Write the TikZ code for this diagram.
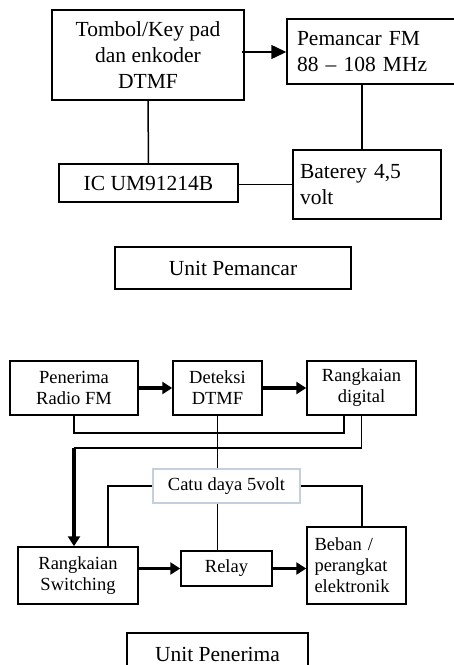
\documentclass[tikz,border=0pt]{standalone}
\usepackage{fontspec}
\setmainfont{Liberation Serif}
\usepackage{tikz}
\usetikzlibrary{arrows.meta, positioning, calc}

\definecolor{catublue}{RGB}{196,208,222}

\begin{document}
\begin{tikzpicture}[
        x=1pt, y=-1pt,
        box/.style={rectangle, draw, line width=1.5pt, inner sep=0pt, align=center},
        bigtxt/.style={font=\fontsize{21.5}{26}\selectfont},
        smalltxt/.style={font=\fontsize{18.5}{21}\selectfont},
        line/.style={line width=1.5pt},
        arrow/.style={line width=1.5pt, -{Triangle[length=15pt, width=14pt]}},
        thickarrow/.style={line width=3.2pt, -{Triangle[length=10pt, width=12pt]}},
        >=stealth
    ]
    \useasboundingbox (0,0) rectangle (454,665);

    % unit pemancar
    \node (tombol) [box, bigtxt, minimum width=192pt, minimum height=90pt] at (148,55) {Tombol/Key pad\\dan enkoder\\DTMF};
    \node (pemancar) [box, bigtxt, minimum width=190pt, minimum height=65pt, align=left, text width=170pt] at (382,51.5) {Pemancar FM\\88 -- 108 MHz};
    \node (ic) [box, bigtxt, minimum width=179pt, minimum height=38pt] at (148.5,183) {IC UM91214B};
    \node (baterey) [box, bigtxt, minimum width=148pt, minimum height=69pt, align=left, text width=134pt] at (367,184.5) {Baterey 4,5\\volt};
    \node (unittx) [box, bigtxt, minimum width=236pt, minimum height=42pt] at (233,268) {Unit Pemancar};

    \draw[arrow] ([xshift=-3pt]tombol.east |- 0,52) -- (pemancar.west |- 0,52);
    \draw[line] (tombol.south) -- (ic.north);
    \draw[line] ([xshift=-5pt]baterey.north) -- ([xshift=-5pt]baterey.north |- pemancar.south);
    \draw[line] (ic.east |- baterey.west) -- (baterey.west);

    % unit penerima
    \node (penerima) [box, smalltxt, minimum width=128pt, minimum height=54pt] at (74,388) {Penerima\\Radio FM};
    \node (deteksi) [box, smalltxt, minimum width=89pt, minimum height=54pt] at (217.5,388) {Deteksi\\DTMF};
    \node (digital) [box, smalltxt, minimum width=109pt, minimum height=54pt] at (361.5,388) {Rangkaian\\digital};
    \node (catu) [box, smalltxt, draw=catublue, minimum width=147pt, minimum height=34pt] at (226.5,486) {Catu daya 5volt};
    \node (switching) [box, smalltxt, minimum width=120pt, minimum height=57pt] at (78,575.5) {Rangkaian\\Switching};
    \node (relay) [box, smalltxt, minimum width=91pt, minimum height=35pt] at (226.5,568.5) {Relay};
    \node (beban) [box, smalltxt, minimum width=99pt, minimum height=77pt, align=left, text width=84pt] at (356.5,565.5) {Beban /\\perangkat\\elektronik};
    \node (unitrx) [box, bigtxt, minimum width=181pt, minimum height=42pt] at (217.5,654) {Unit Penerima};

    \coordinate (bend) at (74,448);

    \draw[thickarrow] (penerima.east) -- (deteksi.west);
    \draw[thickarrow] (deteksi.east) -- (digital.west);
    \draw[line] (penerima.south) |- (344,433) -- ([xshift=-17.5pt]digital.south);
    \draw[line] (digital.south) |- (bend);
    \draw[thickarrow] (bend) -- (bend |- switching.north);
    \draw[line] (deteksi.south) -- (deteksi.south |- catu.north);
    \draw[line] (catu.west) -| ([xshift=30pt]switching.north);
    \draw[line] (catu.east) -| ([xshift=5.5pt]beban.north);
    \draw[line] (catu.south -| deteksi.south) -- (relay.north -| deteksi.south);
    \draw[thickarrow] (relay.west -| switching.east) -- (relay.west);
    \draw[thickarrow] (relay.east) -- (relay.east -| beban.west);

\end{tikzpicture}
\end{document}
